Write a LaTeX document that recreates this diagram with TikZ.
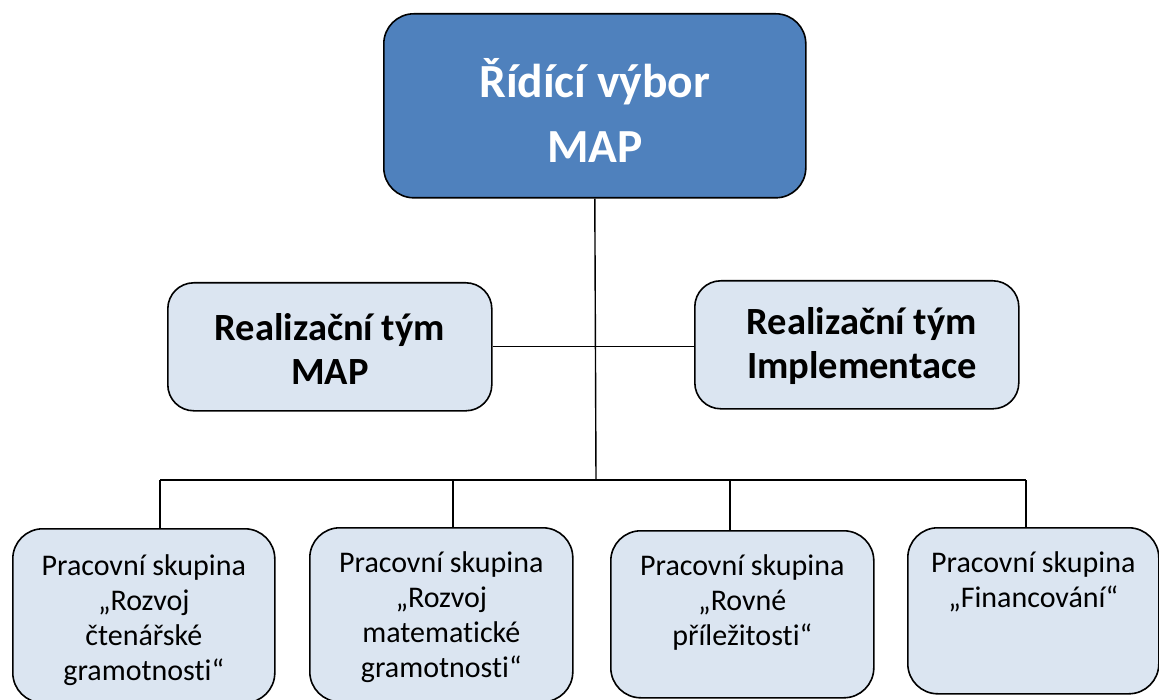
\documentclass[tikz,border=0pt]{standalone}
\usepackage{fontspec}
\setmainfont{Carlito}[Ligatures={NoCommon,NoContextual,NoRequired},RawFeature={-liga;-calt;-clig;-dlig;-rlig}]
\definecolor{topblue}{HTML}{4F81BD}
\definecolor{lightbox}{HTML}{DBE5F1}
\tikzset{
  topbox/.style={draw=black, line width=1.6pt, fill=topblue, rounded corners=30pt, anchor=north west, inner sep=0pt},
  midbox/.style={draw=black, line width=1.6pt, fill=lightbox, rounded corners=26pt, anchor=north west, inner sep=0pt},
  grpbox/.style={draw=black, line width=1.6pt, fill=lightbox, rounded corners=30pt, anchor=north west, inner sep=0pt},
  toptext/.style={text=white, font=\fontsize{47.5}{65}\selectfont\bfseries, align=center},
  midtext/.style={text=black, font=\fontsize{38.5}{44}\selectfont\bfseries, align=center},
  grptext/.style={text=black, font=\fontsize{30}{35}\selectfont, align=center, anchor=north},
  conn/.style={draw=black, line width=1.4pt}
}
\begin{document}
\begin{tikzpicture}[x=1pt,y=-1pt]
\useasboundingbox (0,0) rectangle (1159,700);
% top
\node[topbox, minimum width=422pt, minimum height=184pt] (top) at (383,13) {};
\node[toptext] (toplbl) at ([yshift=-5pt]top.center) {Řídící výbor\\MAP};
% middle
\node[midbox, minimum width=324pt, minimum height=128pt] (rtm) at (167,282) {};
\node[midtext] (rtmlbl) at ([yshift=-2pt]rtm.center) {Realizační tým\\MAP};
\node[midbox, minimum width=324pt, minimum height=128pt] (rti) at (694,280) {};
\node[midtext] (rtilbl) at ([xshift=5pt,yshift=-1pt]rti.center) {Realizační tým\\Implementace};
% bottom groups
\node[grpbox, minimum width=262pt, minimum height=174pt] (g1) at (12,528) {};
\node[grptext] (g1lbl) at ([yshift=-23pt]g1.north) {Pracovní skupina\\„Rozvoj\\čtenářské\\gramotnosti“};
\node[grpbox, minimum width=263pt, minimum height=174pt] (g2) at (309,527) {};
\node[grptext] (g2lbl) at ([yshift=-21pt]g2.north) {Pracovní skupina\\„Rozvoj\\matematické\\gramotnosti“};
\node[grpbox, minimum width=263pt, minimum height=167pt] (g3) at (610,530) {};
\node[grptext] (g3lbl) at ([yshift=-21pt]g3.north) {Pracovní skupina\\„Rovné\\příležitosti“};
\node[grpbox, minimum width=251pt, minimum height=166pt] (g4) at (907,527) {};
\node[grptext] (g4lbl) at ([yshift=-21pt]g4.north) {Pracovní skupina\\„Financování“};
% connectors
\coordinate (busc) at (596,480);
\coordinate (d1) at (160,480);
\coordinate (d2) at (453,480);
\coordinate (d3) at (730,480);
\coordinate (d4) at (1026,480);
\draw[conn] (top.south) -- (busc);
\draw[conn] (rtm.east) -- (rti.west |- rtm.east);
\draw[conn] (d1) -- (d4);
\draw[conn] (d1) -- (d1 |- g1.north);
\draw[conn] (d2) -- (d2 |- g2.north);
\draw[conn] (d3) -- (d3 |- g3.north);
\draw[conn] (d4) -- (d4 |- g4.north);
\end{tikzpicture}
\end{document}
